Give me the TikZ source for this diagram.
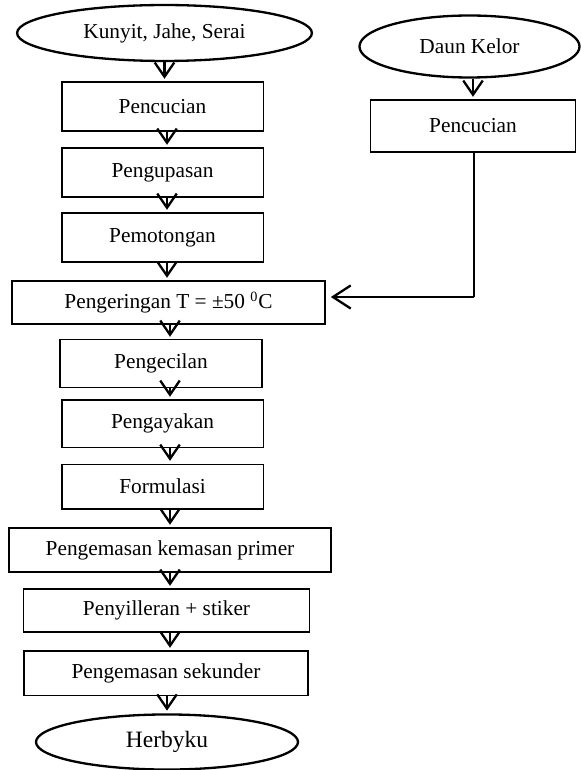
\documentclass[tikz,border=0pt]{standalone}
\usepackage{fontspec}
\setmainfont{Liberation Serif}
\usetikzlibrary{shapes.geometric,arrows.meta}

\begin{document}
\begin{tikzpicture}[x=0.563pt,y=-0.563pt]
\tikzstyle{every node}+=[inner sep=0pt, font=\fontsize{12}{14}\selectfont]
\tikzstyle{kotak}=[draw, rectangle, line width=0.6pt]
\tikzstyle{oval}=[draw, ellipse, line width=1.3pt]
\tikzstyle{panah}=[line width=1.3pt, shorten >=1.5pt, -{Straight Barb[length=8pt,width=11pt]}]
\useasboundingbox (0,0) rectangle (581,770);
% jalur kiri
\node [oval, minimum width=166pt, minimum height=31.5pt] (bahan) at (164.5,33) {Kunyit, Jahe, Serai};
\node [kotak, minimum width=113.2pt, minimum height=27.6pt] (cuci1) at (162.5,106.5) {Pencucian};
\node [kotak, minimum width=113.2pt, minimum height=27.6pt] (kupas) at (162.5,172.5) {Pengupasan};
\node [kotak, minimum width=113.2pt, minimum height=27.6pt] (potong) at (162.5,237.5) {Pemotongan};
\node [kotak, minimum width=176.2pt, minimum height=24.2pt] (kering) at (168.5,302.5) {Pengeringan T = ±50 \textsuperscript{0}C};
\node [kotak, minimum width=113.7pt, minimum height=26.5pt] (kecil) at (161,363.5) {Pengecilan};
\node [kotak, minimum width=113.2pt, minimum height=26.5pt] (ayak) at (162.5,423.5) {Pengayakan};
\node [kotak, minimum width=113.2pt, minimum height=25.3pt] (formula) at (162.5,486.5) {Formulasi};
\node [kotak, minimum width=181.3pt, minimum height=24.8pt] (primer) at (170,550) {Pengemasan kemasan primer};
\node [kotak, minimum width=160.5pt, minimum height=24.2pt] (stiker) at (166.5,610.5) {Penyilleran + stiker};
\node [kotak, minimum width=159.9pt, minimum height=24.8pt] (sekunder) at (166,673) {Pengemasan sekunder};
\node [oval, minimum width=147.5pt, minimum height=31pt, font=\fontsize{13.2}{15}\selectfont] (herbyku) at (167,742) {Herbyku};
% jalur kanan
\node [oval, minimum width=123.9pt, minimum height=34.9pt] (kelor) at (469.5,46.5) {Daun Kelor};
\node [kotak, minimum width=114.9pt, minimum height=29.3pt] (cuci2) at (473,126) {Pencucian};
\coordinate (belok) at (474,297);

\draw [panah] (bahan.south) -- (bahan.south |- cuci1.north);
\draw [panah] (cuci1.south -| herbyku) -- (kupas.north -| herbyku);
\draw [panah] (kupas.south -| herbyku) -- (potong.north -| herbyku);
\draw [panah] (potong.south -| herbyku) -- (kering.north -| herbyku);
\draw [panah] (kering.south -| primer) -- (kecil.north -| primer);
\draw [panah] (kecil.south -| primer) -- (ayak.north -| primer);
\draw [panah] (ayak.south -| primer) -- (formula.north -| primer);
\draw [panah] (formula.south -| primer) -- (primer.north);
\draw [panah] (primer.south) -- (stiker.north -| primer);
\draw [panah] (stiker.south -| primer) -- (sekunder.north -| primer);
\draw [panah] (sekunder.south -| herbyku) -- (herbyku.north);
\draw [panah] (kelor.south -| cuci2) -- (cuci2.north);
\draw [line width=0.6pt] (cuci2.south -| belok) -- (belok);
\draw [line width=1.3pt, shorten >=3pt, -{Straight Barb[length=10pt,width=13pt]}] (belok) -- (kering.east |- belok);
\end{tikzpicture}
\end{document}
